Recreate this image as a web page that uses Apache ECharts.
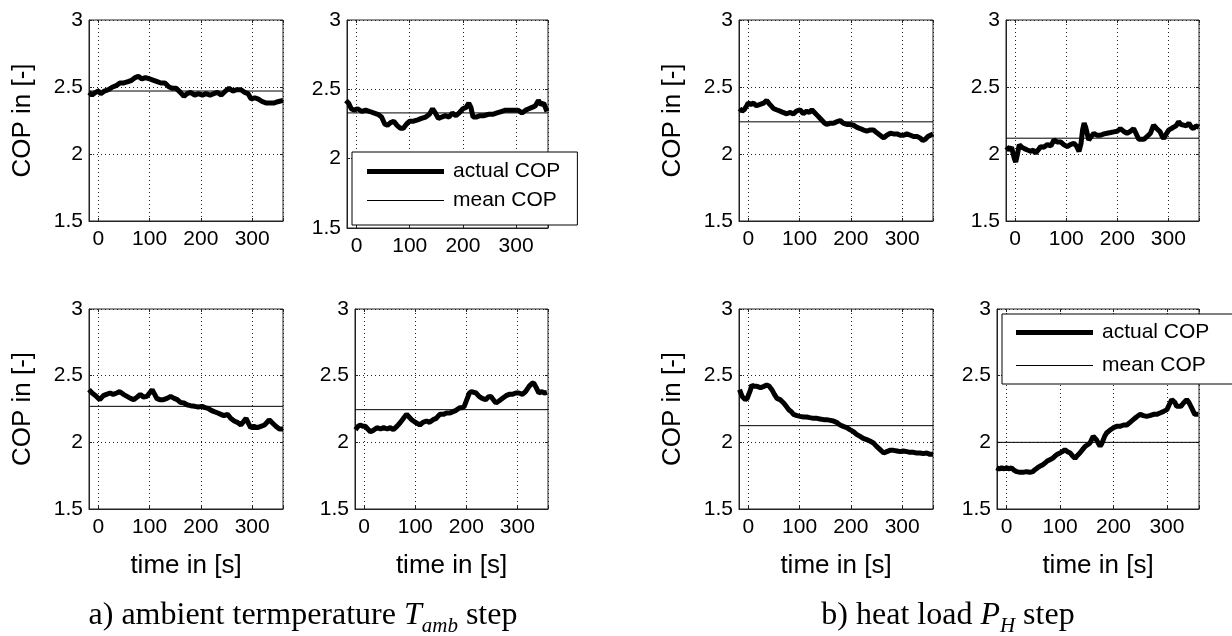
<!DOCTYPE html>
<html>
<head>
<meta charset="utf-8">
<script src="https://cdn.jsdelivr.net/npm/echarts@6/dist/echarts.min.js"></script>
<style>
html, body { margin: 0; padding: 0; background: #fff; }
#main { width: 1232px; height: 636px; }
</style>
</head>
<body>
<div id="main"></div>
<script>
// axis limits / ticks
var xMin = -18, xMax = 360;
var yMin = 1.5, yMax = 3, yStep = 0.5;
var xTickStep = 100;

// a) ambient temperature step  [time s, COP]
var ambTL = [[-18,2.46],[-12,2.44],[-5,2.46],[0,2.47],[5,2.45],[12,2.47],[20,2.48],[28,2.50],[35,2.51],[42,2.53],[50,2.53],[58,2.54],[65,2.55],[72,2.57],[78,2.58],[85,2.56],[92,2.57],[100,2.56],[108,2.55],[115,2.54],[122,2.53],[130,2.53],[138,2.50],[145,2.49],[152,2.49],[160,2.46],[167,2.43],[173,2.45],[180,2.46],[188,2.44],[195,2.45],[203,2.44],[210,2.45],[218,2.44],[225,2.45],[232,2.46],[240,2.44],[248,2.47],[255,2.49],[262,2.47],[270,2.48],[278,2.48],[285,2.46],[292,2.45],[298,2.41],[305,2.42],[312,2.41],[320,2.39],[328,2.38],[335,2.38],[342,2.38],[350,2.39],[360,2.40]];
var ambTR = [[-20,2.42],[-15,2.40],[-10,2.36],[-5,2.35],[2,2.36],[10,2.34],[17,2.35],[25,2.34],[32,2.33],[40,2.32],[47,2.30],[53,2.25],[58,2.24],[64,2.26],[70,2.27],[76,2.24],[82,2.22],[88,2.22],[94,2.25],[100,2.27],[107,2.27],[115,2.28],[122,2.29],[130,2.30],[137,2.32],[143,2.36],[148,2.33],[154,2.29],[160,2.30],[167,2.31],[174,2.30],[180,2.33],[187,2.31],[193,2.33],[200,2.36],[206,2.37],[211,2.40],[215,2.37],[219,2.30],[225,2.30],[232,2.31],[240,2.31],[248,2.32],[256,2.32],[264,2.33],[272,2.34],[280,2.35],[288,2.35],[296,2.35],[304,2.35],[311,2.33],[318,2.35],[324,2.36],[330,2.37],[336,2.38],[342,2.42],[347,2.39],[352,2.40],[358,2.34]];
var ambBL = [[-18,2.395],[-12,2.37],[-5,2.35],[3,2.32],[10,2.35],[16,2.36],[23,2.37],[29,2.36],[36,2.37],[42,2.38],[49,2.36],[56,2.345],[63,2.33],[69,2.32],[76,2.34],[82,2.36],[88,2.34],[95,2.345],[100,2.37],[105,2.395],[110,2.36],[114,2.33],[120,2.32],[127,2.32],[134,2.33],[141,2.345],[148,2.33],[154,2.32],[160,2.30],[167,2.295],[174,2.28],[180,2.275],[188,2.27],[195,2.265],[202,2.27],[208,2.26],[214,2.255],[220,2.24],[226,2.23],[233,2.22],[239,2.21],[245,2.20],[252,2.21],[258,2.18],[265,2.16],[271,2.15],[278,2.13],[284,2.16],[288,2.18],[293,2.14],[297,2.11],[303,2.12],[310,2.11],[317,2.12],[324,2.13],[329,2.15],[333,2.17],[338,2.15],[346,2.12],[353,2.10],[360,2.10]];
var ambBR = [[-17,2.095],[-12,2.12],[-8,2.13],[-2,2.12],[2,2.12],[7,2.10],[12,2.08],[18,2.09],[25,2.11],[32,2.10],[38,2.11],[45,2.10],[51,2.11],[57,2.095],[64,2.12],[70,2.145],[77,2.18],[83,2.21],[88,2.19],[93,2.17],[100,2.15],[105,2.14],[109,2.13],[115,2.15],[122,2.16],[128,2.15],[135,2.17],[141,2.18],[148,2.21],[155,2.21],[161,2.22],[168,2.22],[174,2.23],[180,2.24],[187,2.26],[192,2.26],[196,2.27],[201,2.32],[206,2.37],[210,2.38],[213,2.395],[219,2.37],[225,2.345],[231,2.33],[238,2.32],[243,2.34],[248,2.345],[253,2.32],[258,2.295],[264,2.31],[271,2.33],[278,2.35],[284,2.36],[290,2.36],[297,2.37],[303,2.37],[310,2.36],[316,2.38],[323,2.42],[328,2.44],[332,2.445],[337,2.41],[342,2.37],[348,2.38],[353,2.37],[358,2.375]];

// b) heat load step
var heatTL = [[-17,2.34],[-12,2.32],[-8,2.33],[-3,2.36],[0,2.38],[5,2.37],[10,2.38],[16,2.36],[23,2.37],[30,2.38],[36,2.40],[42,2.37],[49,2.34],[55,2.33],[62,2.32],[68,2.31],[75,2.30],[81,2.31],[88,2.30],[94,2.32],[101,2.33],[107,2.30],[114,2.32],[119,2.31],[124,2.33],[129,2.31],[134,2.29],[139,2.27],[144,2.25],[149,2.23],[153,2.22],[160,2.23],[166,2.23],[172,2.24],[179,2.25],[185,2.23],[192,2.22],[198,2.22],[205,2.215],[211,2.20],[218,2.19],[224,2.18],[231,2.17],[238,2.18],[244,2.18],[250,2.16],[257,2.14],[264,2.12],[270,2.14],[277,2.155],[283,2.15],[290,2.15],[296,2.14],[303,2.14],[309,2.15],[316,2.14],[322,2.13],[329,2.13],[335,2.12],[340,2.10],[345,2.11],[350,2.13],[355,2.14],[360,2.15]];
var heatTR = [[-17,2.055],[-12,2.03],[-7,2.05],[-2,1.97],[1,1.94],[4,1.99],[8,2.07],[13,2.05],[18,2.04],[24,2.03],[31,2.02],[36,2.03],[40,2.005],[45,2.03],[50,2.055],[56,2.05],[63,2.07],[70,2.06],[76,2.105],[82,2.09],[89,2.09],[95,2.07],[102,2.055],[108,2.07],[115,2.08],[120,2.06],[125,2.02],[129,2.08],[132,2.18],[135,2.23],[138,2.20],[141,2.19],[144,2.105],[149,2.13],[154,2.155],[160,2.14],[167,2.14],[174,2.15],[180,2.155],[187,2.16],[193,2.165],[200,2.17],[206,2.19],[212,2.17],[219,2.155],[226,2.17],[232,2.19],[237,2.15],[242,2.11],[247,2.11],[252,2.11],[258,2.13],[265,2.155],[271,2.215],[277,2.19],[284,2.165],[288,2.13],[291,2.115],[296,2.15],[301,2.18],[306,2.19],[310,2.20],[315,2.21],[320,2.24],[325,2.22],[330,2.215],[335,2.21],[340,2.23],[345,2.20],[349,2.19],[354,2.21],[360,2.20]];
var heatBL = [[-17,2.395],[-12,2.345],[-6,2.32],[-2,2.33],[1,2.345],[4,2.39],[7,2.43],[11,2.42],[14,2.41],[17,2.42],[20,2.43],[24,2.41],[27,2.395],[31,2.42],[36,2.43],[41,2.42],[46,2.395],[51,2.36],[56,2.33],[62,2.32],[69,2.295],[74,2.27],[79,2.245],[84,2.23],[88,2.21],[95,2.20],[101,2.195],[108,2.19],[114,2.19],[120,2.185],[127,2.18],[134,2.18],[140,2.175],[147,2.17],[153,2.17],[160,2.165],[166,2.16],[172,2.15],[179,2.13],[185,2.12],[192,2.11],[198,2.095],[205,2.08],[211,2.06],[218,2.045],[224,2.03],[231,2.02],[237,2.01],[244,1.995],[250,1.97],[257,1.945],[264,1.92],[270,1.93],[276,1.94],[283,1.94],[290,1.935],[296,1.93],[302,1.935],[309,1.93],[315,1.925],[322,1.925],[328,1.92],[335,1.92],[341,1.915],[348,1.92],[354,1.91],[360,1.91]];
var heatBR = [[-19,1.81],[-14,1.80],[-9,1.81],[-4,1.80],[0,1.81],[5,1.80],[9,1.81],[14,1.79],[19,1.78],[25,1.775],[31,1.775],[37,1.78],[44,1.775],[49,1.78],[53,1.795],[58,1.81],[62,1.82],[67,1.83],[72,1.845],[76,1.86],[81,1.87],[86,1.88],[90,1.895],[95,1.91],[100,1.92],[104,1.93],[109,1.945],[114,1.93],[119,1.92],[123,1.90],[128,1.88],[132,1.90],[137,1.92],[142,1.945],[147,1.97],[151,1.98],[156,1.995],[159,2.02],[162,2.045],[165,2.03],[168,2.02],[172,1.99],[175,1.97],[178,1.99],[181,2.02],[184,2.05],[187,2.07],[193,2.09],[200,2.11],[206,2.12],[212,2.12],[219,2.13],[225,2.13],[231,2.15],[237,2.17],[243,2.19],[250,2.21],[256,2.20],[262,2.195],[268,2.20],[275,2.21],[281,2.21],[287,2.22],[293,2.23],[300,2.245],[304,2.28],[309,2.32],[312,2.31],[315,2.30],[318,2.27],[321,2.26],[326,2.27],[331,2.295],[337,2.32],[341,2.30],[346,2.26],[352,2.21],[359,2.21]];

var actualCop = [ambTL, ambTR, ambBL, ambBR, heatTL, heatTR, heatBL, heatBR];
var meanCop = [2.47, 2.33, 2.27, 2.245, 2.24, 2.118, 2.125, 2.0];

// panel boxes [left, top, width, height]
var boxes = [
    [89, 20, 194, 201], [347, 20, 201, 208], [89, 309, 194, 200], [355, 309, 193, 200],
    [739, 20, 194, 201], [1006, 20, 193, 201], [739, 309, 194, 200], [997, 309, 202, 200]
];

var chart = echarts.init(document.getElementById('main'));
var sans = 'Liberation Sans, Arial, sans-serif';
var serif = 'Liberation Serif, Times New Roman, serif';

var grid = [], xAxis = [], yAxis = [], series = [], xTop = [], yRight = [];
var dotted = {show: true, lineStyle: {color: '#222', width: 1, type: [1, 3]}};
var tick = {show: true, inside: true, length: 3, lineStyle: {color: '#222'}};

boxes.forEach(function (b, i) {
    grid.push({left: b[0], top: b[1], width: b[2], height: b[3], show: true,
        borderColor: '#222', borderWidth: 1, backgroundColor: 'transparent'});
    var bottomRow = (i % 4) >= 2;
    var leftCol = (i % 2) === 0;
    xAxis.push({
        gridIndex: i, type: 'value', min: xMin, max: xMax,
        minInterval: xTickStep, maxInterval: xTickStep, splitNumber: 4,
        axisLine: {show: true, onZero: false, lineStyle: {color: '#222'}},
        axisTick: tick,
        axisLabel: {color: '#000', fontSize: 21, fontFamily: sans, margin: 8,
            formatter: function (v) { return v % 100 === 0 ? String(Math.abs(v)) : ''; }},
        splitLine: dotted,
        name: bottomRow ? 'time in [s]' : '',
        nameLocation: 'middle', nameGap: 44,
        nameTextStyle: {color: '#000', fontSize: 26, fontFamily: sans}
    });
    yAxis.push({
        gridIndex: i, type: 'value', min: yMin, max: yMax, interval: yStep,
        axisLine: {show: true, onZero: false, lineStyle: {color: '#222'}},
        axisTick: tick,
        axisLabel: {color: '#000', fontSize: 21, fontFamily: sans, margin: 6},
        splitLine: dotted,
        name: leftCol ? 'COP in [-]' : '',
        nameLocation: 'middle', nameGap: 53,
        nameTextStyle: {color: '#000', fontSize: 26, fontFamily: sans}
    });
    xTop.push({
        gridIndex: i, type: 'value', position: 'top', min: xMin, max: xMax,
        minInterval: xTickStep, maxInterval: xTickStep, splitNumber: 4,
        axisLine: {show: false, onZero: false}, axisLabel: {show: false}, splitLine: {show: false},
        axisTick: tick
    });
    yRight.push({
        gridIndex: i, type: 'value', position: 'right', min: yMin, max: yMax, interval: yStep,
        axisLine: {show: false, onZero: false}, axisLabel: {show: false}, splitLine: {show: false},
        axisTick: tick
    });
    series.push({
        name: 'actual COP', type: 'line', xAxisIndex: i, yAxisIndex: i,
        data: actualCop[i], symbol: 'none', showSymbol: false, z: 3,
        lineStyle: {color: '#000', width: 5}, itemStyle: {color: '#000'}
    });
    series.push({
        name: 'mean COP', type: 'line', xAxisIndex: i, yAxisIndex: i,
        data: [[xMin, meanCop[i]], [xMax, meanCop[i]]], symbol: 'none', showSymbol: false, z: 2,
        lineStyle: {color: '#000', width: 1}, itemStyle: {color: '#000'}
    });
});

var legendBase = {
    orient: 'vertical', selectedMode: false, symbolKeepAspect: true,
    data: [
        {name: 'actual COP', icon: 'path://M0,0H77V5H0Z', itemStyle: {color: '#000', borderWidth: 0}},
        {name: 'mean COP', icon: 'path://M0,0H77V1H0Z', itemStyle: {color: '#000', borderWidth: 0}}
    ],
    itemWidth: 77, itemHeight: 20, backgroundColor: '#fff', borderColor: '#000', borderWidth: 1,
    textStyle: {color: '#000', fontSize: 21, fontFamily: sans, padding: [0, 0, 0, 4]}, z: 10
};

var captionRich = {
    n: {fontSize: 32, fontFamily: serif, lineHeight: 42},
    i: {fontSize: 32, fontFamily: serif, fontStyle: 'italic', lineHeight: 42},
    s: {fontSize: 21, fontFamily: serif, fontStyle: 'italic', lineHeight: 21, verticalAlign: 'bottom'}
};

option = {
    animation: false,
    textStyle: {fontFamily: sans},
    grid: grid,
    xAxis: xAxis.concat(xTop),
    yAxis: yAxis.concat(yRight),
    legend: [
        Object.assign({}, legendBase, {left: 352, top: 152, itemGap: 8, padding: [9, 17, 14, 15]}),
        Object.assign({}, legendBase, {left: 1002, top: 314, itemGap: 12, padding: [8, 60, 8, 14]})
    ],
    graphic: [
        {
            type: 'text', x: 303, y: 616,
            style: {
                text: '{n|a) ambient termperature }{i|T}{s|amb}{n| step}',
                align: 'center', verticalAlign: 'middle', fill: '#000', rich: captionRich
            }
        },
        {
            type: 'text', x: 948, y: 616,
            style: {
                text: '{n|b) heat load }{i|P}{s|H}{n| step}',
                align: 'center', verticalAlign: 'middle', fill: '#000', rich: captionRich
            }
        }
    ],
    series: series
};
chart.setOption(option);
</script>
</body>
</html>
